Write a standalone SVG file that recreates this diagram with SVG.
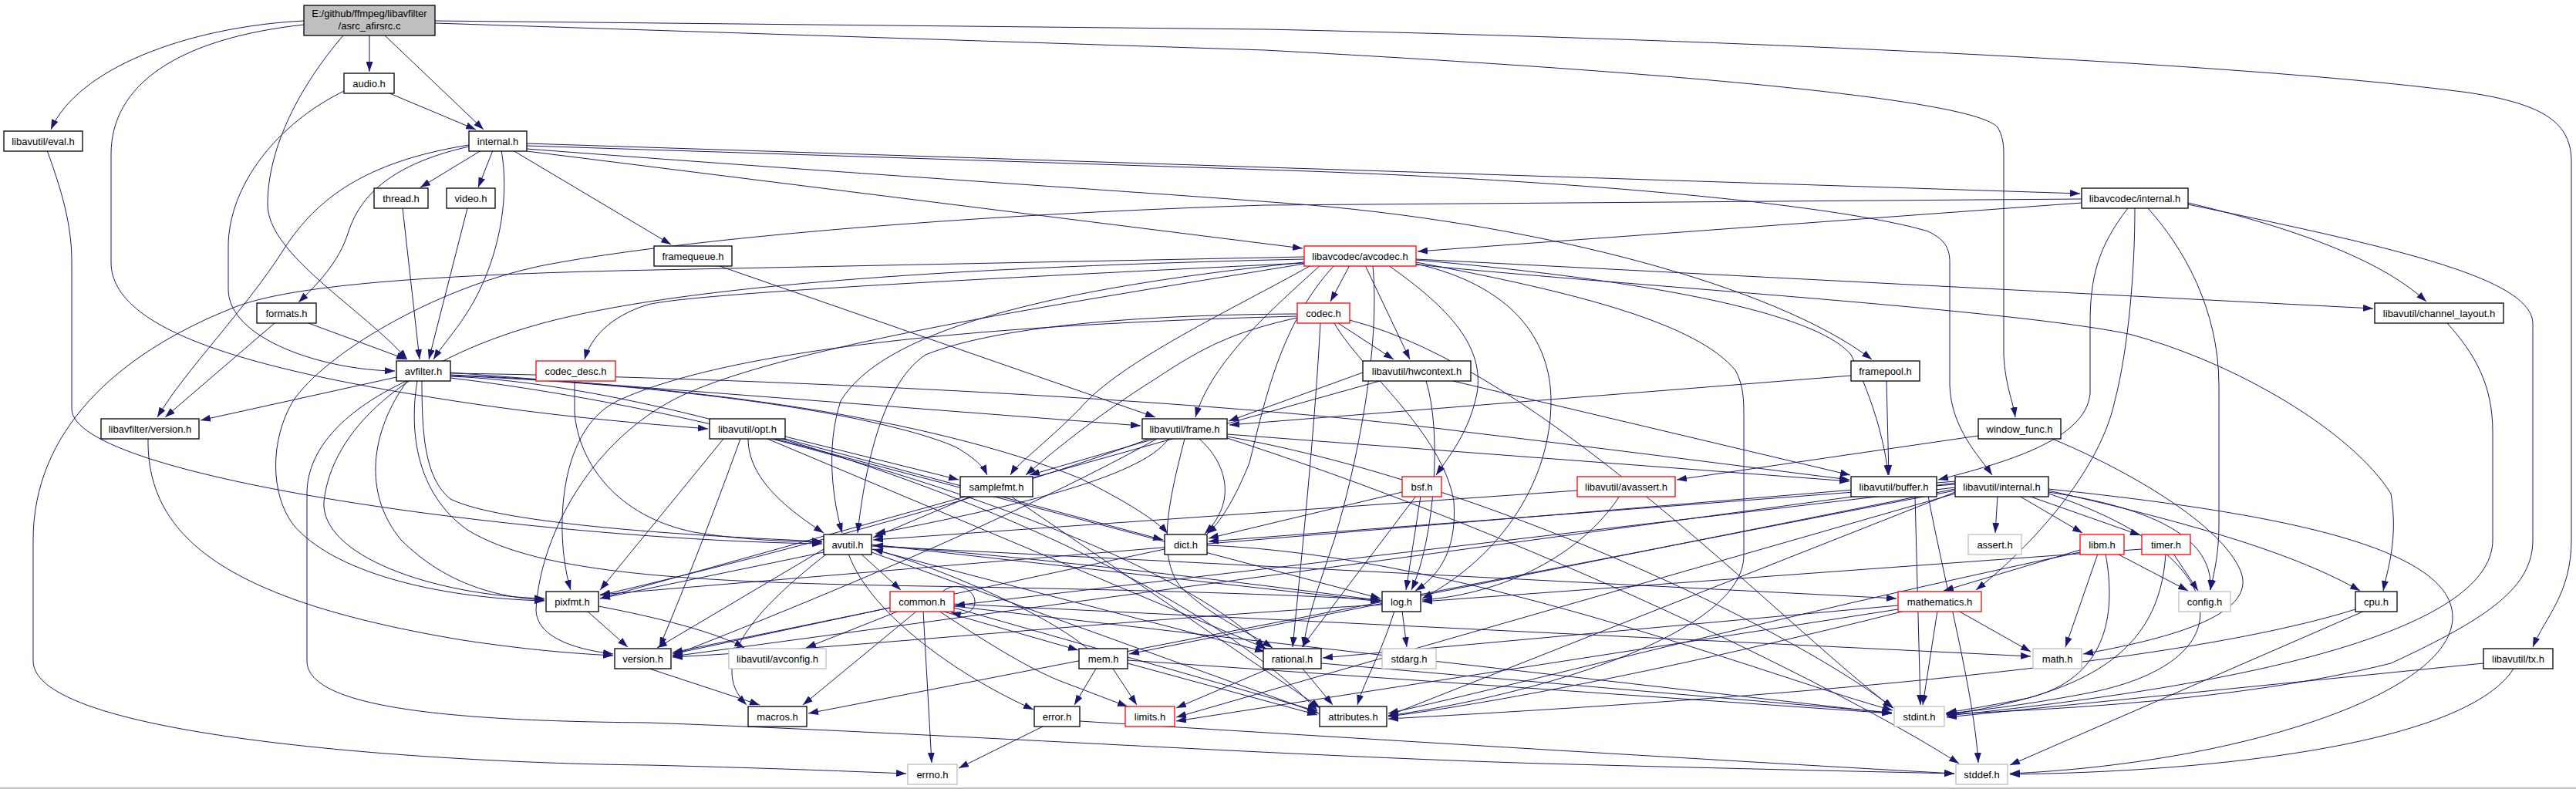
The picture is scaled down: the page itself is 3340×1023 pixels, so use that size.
<svg xmlns="http://www.w3.org/2000/svg" width="3340" height="1023" viewBox="0 0 3340 1023">
<style>
rect.n{fill:#fff;stroke:#000;stroke-width:1.3}
rect.r{fill:#fff;stroke:#f00;stroke-width:1.3}
rect.g{fill:#fff;stroke:#bfbfbf;stroke-width:1.3}
rect.root{fill:#bfbfbf;stroke:#000;stroke-width:1.3}
text{font-family:"Liberation Sans",Arial,sans-serif;font-size:13px;fill:#000;text-anchor:middle}
#edges path{fill:none;stroke:#191970;stroke-width:1;marker-end:url(#a)}
</style>
<defs>
<marker id="a" markerWidth="13" markerHeight="9" refX="13" refY="4.5" orient="auto" markerUnits="userSpaceOnUse"><path d="M0,0 L13,4.5 L0,9 z" fill="#191970" stroke="none"/></marker>
</defs>
<rect x="0" y="0" width="3340" height="1023" fill="#fff"/>
<rect x="0" y="1021" width="3340" height="2" fill="#c0c0c0"/>
<g id="edges">
<path d="M394,27 C240,35 100,90 66,168"/>
<path d="M394,32 C230,50 144,110 144,200 L144,340 C144,430 330,480 590,520 C720,540 830,549 918,556"/>
<path d="M445,46 C390,110 347,190 347,265 C347,330 470,400 528,466"/>
<path d="M479,46 L479,93"/>
<path d="M499,46 L627,168"/>
<path d="M564,27 L1640,38 C2200,50 2900,80 3200,120 C3300,135 3334,160 3334,210 L3334,700 C3334,770 3300,800 3284,839"/>
<path d="M564,30 L1640,65 C2200,95 2560,130 2590,165 C2596,175 2598,185 2598,200 L2598,460 C2600,500 2610,520 2613,541"/>
<path d="M505,121 L617,168"/>
<path d="M446,118 C360,160 296,240 296,320 L296,375 C296,440 420,480 512,481"/>
<path d="M624,195 L545,243"/>
<path d="M639,195 L620,243"/>
<path d="M650,195 C660,250 650,320 620,380 C600,420 575,445 562,466"/>
<path d="M608,190 C520,210 470,245 452,300 C440,340 410,370 387,392"/>
<path d="M608,188 C470,210 410,260 370,320 C320,400 240,480 204,541"/>
<path d="M665,195 L870,317"/>
<path d="M683,186 L2697,251"/>
<path d="M683,189 L1640,220 C2100,235 2400,270 2500,300 C2520,310 2528,320 2528,340 L2528,500 C2530,555 2565,590 2583,616"/>
<path d="M683,193 C1100,225 1500,250 1700,266 C2000,292 2300,370 2427,466"/>
<path d="M683,196 L1689,322"/>
<path d="M522,270 L544,466"/>
<path d="M606,270 L556,466"/>
<path d="M400,419 L527,466"/>
<path d="M356,419 L214,541"/>
<path d="M933,345 L1498,541"/>
<path d="M2400,487 L1594,551"/>
<path d="M2446,494 L2449,616"/>
<path d="M2699,263 L1838,326"/>
<path d="M2699,258 L1640,266 C1200,280 850,315 700,345 C560,375 420,460 380,520 C350,570 350,640 380,680 C430,740 560,775 706,779"/>
<path d="M2837,263 C2950,290 3080,330 3146,391"/>
<path d="M2837,265 C3100,320 3284,360 3284,420 L3284,700 C3284,760 3230,800 3100,860 C2900,910 2650,920 2523,926"/>
<path d="M2759,270 C2720,320 2710,360 2710,420 L2710,510 C2705,570 2600,600 2513,622"/>
<path d="M2768,270 C2768,350 2760,450 2742,520 C2720,620 2620,720 2562,765"/>
<path d="M2785,270 C2830,320 2877,400 2877,500 L2877,680 C2877,720 2870,745 2866,765"/>
<path d="M1691,333 L848,350 C500,357 360,375 300,400 C150,460 43,560 43,700 L43,857 C43,960 600,990 840,992 C1000,996 1100,1000 1175,1003"/>
<path d="M1700,344 C1600,400 1450,470 1400,530 C1350,580 1320,600 1310,616"/>
<path d="M1836,340 C2050,380 2200,420 2250,480 C2261,500 2261,520 2261,540 L2261,720 C2261,820 2000,900 1800,928"/>
<path d="M1691,340 C1400,370 1150,420 1090,520 C1070,580 1080,650 1092,691"/>
<path d="M1691,336 C1300,345 900,365 700,420 C520,470 430,560 420,650 C415,720 560,772 706,776"/>
<path d="M1691,342 C1400,390 1000,450 870,520 C760,580 700,700 695,790 C695,820 730,840 795,848"/>
<path d="M1836,337 C2100,360 2350,400 2400,460 C2430,520 2445,580 2448,616"/>
<path d="M1836,343 C2100,370 2600,400 2760,433 C2900,470 3050,560 3100,640 C3110,700 3095,740 3090,766"/>
<path d="M1836,336 L3077,400"/>
<path d="M1730,344 C1660,420 1640,520 1620,600 C1600,650 1580,680 1565,692"/>
<path d="M1712,344 C1650,400 1570,470 1550,541"/>
<path d="M1770,344 L1828,466"/>
<path d="M1750,344 L1725,391"/>
<path d="M1691,341 C1300,360 900,380 840,395 C790,410 765,440 758,466"/>
<path d="M1780,344 C1790,450 1760,600 1730,700 C1710,760 1695,800 1690,839"/>
<path d="M1836,342 C1960,370 2011,440 2011,520 C2011,620 1950,720 1844,776"/>
<path d="M1800,344 C1880,400 1925,450 1915,510 C1905,560 1880,590 1862,616"/>
<path d="M1735,419 L1807,466"/>
<path d="M1682,412 C1600,430 1560,450 1500,490 C1420,540 1360,590 1330,616"/>
<path d="M1682,407 C1500,408 1300,420 1200,460 C1140,500 1120,620 1112,691"/>
<path d="M1682,410 C1300,420 950,450 800,520 C720,560 720,700 740,765"/>
<path d="M1730,419 C1765,480 1870,560 1885,650 C1890,720 1860,750 1835,766"/>
<path d="M1712,419 C1705,550 1690,700 1676,839"/>
<path d="M1750,415 C2000,480 2300,800 2454,918"/>
<path d="M745,494 L745,535 C750,600 800,670 900,690 C960,700 1020,702 1066,703"/>
<path d="M1767,483 L1593,546"/>
<path d="M1884,494 L2399,616"/>
<path d="M1849,494 C1870,560 1860,700 1830,765"/>
<path d="M1789,494 L778,776"/>
<path d="M1818,638 L1567,698"/>
<path d="M1842,643 L1823,765"/>
<path d="M1836,643 L1688,839"/>
<path d="M2045,636 L1132,700"/>
<path d="M2100,643 C2050,720 1950,770 1844,778"/>
<path d="M2565,565 L2174,622"/>
<path d="M2661,569 C2760,610 2880,680 2905,740 C2930,800 2800,830 2701,848"/>
<path d="M1018,566 L1243,622"/>
<path d="M970,569 C970,620 1020,660 1068,691"/>
<path d="M1018,569 L1508,700"/>
<path d="M995,569 L1642,841"/>
<path d="M1005,569 L1790,776"/>
<path d="M938,569 L778,765"/>
<path d="M960,569 C920,680 880,780 855,839"/>
<path d="M1497,569 L1335,616"/>
<path d="M1555,569 C1590,600 1605,650 1562,692"/>
<path d="M1515,569 C1480,620 1300,660 1135,692"/>
<path d="M1490,569 C1300,640 1000,720 778,772"/>
<path d="M1500,569 C1300,680 1000,800 872,850"/>
<path d="M1536,569 C1515,650 1500,720 1530,760 C1570,800 1620,820 1650,840"/>
<path d="M1591,563 L2398,624"/>
<path d="M1591,566 C1900,620 2300,800 2455,918"/>
<path d="M1591,568 C2000,700 2400,900 2540,990"/>
<path d="M1260,643 L1132,697"/>
<path d="M1310,643 L1712,918"/>
<path d="M1116,718 L1168,765"/>
<path d="M1072,718 C980,790 915,860 968,914"/>
<path d="M1068,712 L852,840"/>
<path d="M1100,718 C1130,800 1250,880 1340,920"/>
<path d="M1130,712 L1640,845"/>
<path d="M1130,708 L2459,776"/>
<path d="M1130,706 L1790,780"/>
<path d="M1068,716 L778,776"/>
<path d="M1130,716 L1710,925"/>
<path d="M1565,707 C1900,720 2300,880 2454,921"/>
<path d="M1510,712 L872,848"/>
<path d="M2483,643 L2490,914"/>
<path d="M2500,643 C2520,750 2560,900 2565,989"/>
<path d="M2590,643 L2587,691"/>
<path d="M2618,643 L2700,691"/>
<path d="M2630,643 L2775,694"/>
<path d="M2656,638 C2800,660 2870,700 2866,765"/>
<path d="M2656,636 C2850,680 2980,720 3060,766"/>
<path d="M2656,634 C2900,660 3180,700 3180,800 C3180,900 2900,990 2606,1003"/>
<path d="M2656,640 C2900,720 2920,860 2700,900 C2620,915 2560,922 2523,925"/>
<path d="M2535,640 L1525,930"/>
<path d="M2535,638 L1800,928"/>
<path d="M2535,628 L1567,702"/>
<path d="M2535,636 L1048,925"/>
<path d="M2535,634 L1464,848"/>
<path d="M2535,624 L778,771"/>
<path d="M2535,626 L872,851"/>
<path d="M2535,632 L1238,785"/>
<path d="M2697,713 L2520,766"/>
<path d="M2720,718 L2678,839"/>
<path d="M2745,718 L2837,766"/>
<path d="M2730,718 C2745,800 2730,880 2630,905 C2580,915 2550,920 2524,924"/>
<path d="M2697,716 C2300,800 2000,880 1800,925"/>
<path d="M2777,712 L1844,780"/>
<path d="M2818,718 L2850,766"/>
<path d="M2808,718 C2800,850 2700,900 2524,927"/>
<path d="M2539,792 L2633,845"/>
<path d="M2512,792 L2493,914"/>
<path d="M2461,785 L1715,853"/>
<path d="M2470,792 C2200,860 1950,910 1800,929"/>
<path d="M2461,790 L1525,935"/>
<path d="M3054,790 C2800,870 2200,910 1800,932"/>
<path d="M3066,792 L2606,992"/>
<path d="M3220,860 L2524,930"/>
<path d="M3259,867 C3200,960 2900,1000 2606,1004"/>
<path d="M3173,419 C3210,460 3232,500 3232,560 L3232,700 C3232,800 3000,880 2524,928"/>
<path d="M761,792 L814,839"/>
<path d="M776,786 C850,800 930,820 965,840"/>
<path d="M1166,792 L1045,840"/>
<path d="M1189,792 L1041,914"/>
<path d="M1154,788 L872,846"/>
<path d="M1220,792 L1398,843"/>
<path d="M1197,792 L1208,989"/>
<path d="M1217,792 C1290,840 1340,870 1380,885 C1420,900 1440,908 1462,916"/>
<path d="M1237,783 L2633,851"/>
<path d="M1237,786 L2453,925"/>
<path d="M1237,788 L1708,922"/>
<path d="M1222,767 C1240,752 1264,765 1264,780 C1264,795 1248,798 1233,794"/>
<path d="M1421,867 L1393,914"/>
<path d="M1443,867 L1474,914"/>
<path d="M1410,841 C1350,790 1200,730 1132,712"/>
<path d="M1462,860 L1708,927"/>
<path d="M1462,856 L2453,925"/>
<path d="M1689,867 L1728,914"/>
<path d="M1713,860 L2453,924"/>
<path d="M1645,867 L1525,918"/>
<path d="M1818,792 L1824,839"/>
<path d="M1808,792 C1790,850 1770,880 1760,914"/>
<path d="M1792,779 C1500,740 1250,715 1132,707"/>
<path d="M1792,784 C1500,800 1100,840 872,852"/>
<path d="M1352,942 L1243,996"/>
<path d="M1400,935 C1800,960 2300,990 2534,1003"/>
<path d="M842,867 L985,914"/>
<path d="M192,569 C190,700 300,780 600,830 C700,845 760,848 795,850"/>
<path d="M61,195 C85,260 93,300 93,340 L93,530 C93,620 700,700 1066,705"/>
<path d="M514,489 L260,545"/>
<path d="M527,494 C450,530 398,580 398,640 L398,857 C398,920 600,935 840,937 C1200,950 1660,980 2000,990 C2300,998 2450,1001 2534,1003"/>
<path d="M584,488 C900,500 1500,700 1708,921"/>
<path d="M547,494 C547,560 550,620 584,647 C650,680 900,695 1066,702"/>
<path d="M541,494 C530,560 540,640 606,687 C700,745 900,755 1200,760 C1500,765 1700,772 1790,778"/>
<path d="M528,494 C480,560 470,640 520,700 C580,760 650,775 706,778"/>
<path d="M584,484 C1000,490 1600,520 1900,560 C2150,590 2300,610 2398,622"/>
<path d="M584,486 C900,500 1200,540 1400,620 C1460,650 1500,675 1514,692"/>
<path d="M584,483 L1479,552"/>
<path d="M584,487 C900,500 1150,540 1240,580 C1265,595 1275,605 1280,616"/>
<path d="M584,490 C1000,540 1500,700 1640,840"/>
</g>
<g id="n_root"><rect class="root" x="394" y="7" width="170" height="39"/><text x="479" y="22">E:/github/ffmpeg/libavfilter</text><text x="479" y="38">/asrc_afirsrc.c</text></g>
<g id="n_audio"><rect class="n" x="446" y="95" width="65" height="26"/><text x="478.5" y="113">audio.h</text></g>
<g id="n_eval"><rect class="n" x="5" y="170" width="102" height="26"/><text x="56" y="188">libavutil/eval.h</text></g>
<g id="n_internal"><rect class="n" x="608" y="170" width="75" height="26"/><text x="645.5" y="188">internal.h</text></g>
<g id="n_thread"><rect class="n" x="485" y="244" width="70" height="26"/><text x="520" y="262">thread.h</text></g>
<g id="n_video"><rect class="n" x="579" y="244" width="63" height="26"/><text x="610.5" y="262">video.h</text></g>
<g id="n_lavcinternal"><rect class="n" x="2699" y="244" width="138" height="26"/><text x="2768" y="262">libavcodec/internal.h</text></g>
<g id="n_framequeue"><rect class="n" x="848" y="319" width="101" height="26"/><text x="898.5" y="337">framequeue.h</text></g>
<g id="n_avcodec"><rect class="r" x="1691" y="319" width="145" height="26"/><text x="1763.5" y="337">libavcodec/avcodec.h</text></g>
<g id="n_formats"><rect class="n" x="333" y="393" width="77" height="26"/><text x="371.5" y="411">formats.h</text></g>
<g id="n_codec"><rect class="r" x="1682" y="393" width="68" height="26"/><text x="1716" y="411">codec.h</text></g>
<g id="n_chlayout"><rect class="n" x="3079" y="393" width="167" height="26"/><text x="3162.5" y="411">libavutil/channel_layout.h</text></g>
<g id="n_avfilter"><rect class="n" x="514" y="468" width="70" height="26"/><text x="549" y="486">avfilter.h</text></g>
<g id="n_codec_desc"><rect class="r" x="695" y="468" width="103" height="26"/><text x="746.5" y="486">codec_desc.h</text></g>
<g id="n_hwcontext"><rect class="n" x="1767" y="468" width="140" height="26"/><text x="1837" y="486">libavutil/hwcontext.h</text></g>
<g id="n_framepool"><rect class="n" x="2400" y="468" width="89" height="26"/><text x="2444.5" y="486">framepool.h</text></g>
<g id="n_lafversion"><rect class="n" x="131" y="543" width="127" height="26"/><text x="194.5" y="561">libavfilter/version.h</text></g>
<g id="n_opt"><rect class="n" x="920" y="543" width="98" height="26"/><text x="969" y="561">libavutil/opt.h</text></g>
<g id="n_frame"><rect class="n" x="1481" y="543" width="110" height="26"/><text x="1536" y="561">libavutil/frame.h</text></g>
<g id="n_window_func"><rect class="n" x="2565" y="543" width="107" height="26"/><text x="2618.5" y="561">window_func.h</text></g>
<g id="n_samplefmt"><rect class="n" x="1245" y="618" width="94" height="26"/><text x="1292" y="636">samplefmt.h</text></g>
<g id="n_bsf"><rect class="r" x="1818" y="618" width="51" height="26"/><text x="1843.5" y="636">bsf.h</text></g>
<g id="n_avassert"><rect class="r" x="2045" y="618" width="127" height="26"/><text x="2108.5" y="636">libavutil/avassert.h</text></g>
<g id="n_buffer"><rect class="n" x="2400" y="618" width="111" height="26"/><text x="2455.5" y="636">libavutil/buffer.h</text></g>
<g id="n_luinternal"><rect class="n" x="2535" y="618" width="121" height="26"/><text x="2595.5" y="636">libavutil/internal.h</text></g>
<g id="n_avutil"><rect class="n" x="1068" y="693" width="62" height="26"/><text x="1099" y="711">avutil.h</text></g>
<g id="n_dict"><rect class="n" x="1510" y="693" width="55" height="26"/><text x="1537.5" y="711">dict.h</text></g>
<g id="n_assert"><rect class="g" x="2552" y="693" width="69" height="26"/><text x="2586.5" y="711">assert.h</text></g>
<g id="n_libm"><rect class="r" x="2697" y="693" width="57" height="26"/><text x="2725.5" y="711">libm.h</text></g>
<g id="n_timer"><rect class="r" x="2777" y="693" width="63" height="26"/><text x="2808.5" y="711">timer.h</text></g>
<g id="n_pixfmt"><rect class="n" x="708" y="767" width="68" height="26"/><text x="742" y="785">pixfmt.h</text></g>
<g id="n_common"><rect class="r" x="1154" y="767" width="83" height="26"/><text x="1195.5" y="785">common.h</text></g>
<g id="n_log"><rect class="n" x="1792" y="767" width="50" height="26"/><text x="1817" y="785">log.h</text></g>
<g id="n_mathematics"><rect class="r" x="2461" y="767" width="108" height="26"/><text x="2515" y="785">mathematics.h</text></g>
<g id="n_config"><rect class="g" x="2825" y="767" width="67" height="26"/><text x="2858.5" y="785">config.h</text></g>
<g id="n_cpu"><rect class="n" x="3054" y="767" width="54" height="26"/><text x="3081" y="785">cpu.h</text></g>
<g id="n_version"><rect class="n" x="797" y="841" width="73" height="26"/><text x="833.5" y="859">version.h</text></g>
<g id="n_avconfig"><rect class="g" x="945" y="841" width="126" height="26"/><text x="1008" y="859">libavutil/avconfig.h</text></g>
<g id="n_mem"><rect class="n" x="1399" y="841" width="63" height="26"/><text x="1430.5" y="859">mem.h</text></g>
<g id="n_rational"><rect class="n" x="1638" y="841" width="75" height="26"/><text x="1675.5" y="859">rational.h</text></g>
<g id="n_stdarg"><rect class="g" x="1792" y="841" width="70" height="26"/><text x="1827" y="859">stdarg.h</text></g>
<g id="n_math"><rect class="g" x="2636" y="841" width="63" height="26"/><text x="2667.5" y="859">math.h</text></g>
<g id="n_tx"><rect class="n" x="3220" y="841" width="90" height="26"/><text x="3265" y="859">libavutil/tx.h</text></g>
<g id="n_macros"><rect class="n" x="970" y="916" width="76" height="26"/><text x="1008" y="934">macros.h</text></g>
<g id="n_error"><rect class="n" x="1341" y="916" width="59" height="26"/><text x="1370.5" y="934">error.h</text></g>
<g id="n_limits"><rect class="r" x="1459" y="916" width="64" height="26"/><text x="1491" y="934">limits.h</text></g>
<g id="n_attributes"><rect class="n" x="1711" y="916" width="87" height="26"/><text x="1754.5" y="934">attributes.h</text></g>
<g id="n_stdint"><rect class="g" x="2456" y="916" width="65" height="26"/><text x="2488.5" y="934">stdint.h</text></g>
<g id="n_errno"><rect class="g" x="1177" y="991" width="64" height="26"/><text x="1209" y="1009">errno.h</text></g>
<g id="n_stddef"><rect class="g" x="2536" y="991" width="67" height="26"/><text x="2569.5" y="1009">stddef.h</text></g>
</svg>
